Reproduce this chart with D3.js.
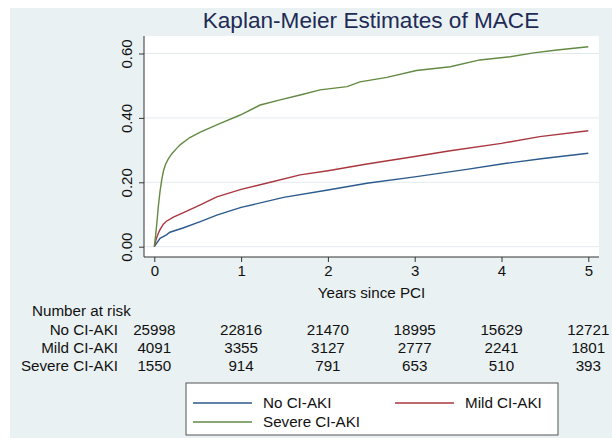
<!DOCTYPE html>
<html><head><meta charset="utf-8">
<script src="https://cdn.jsdelivr.net/npm/d3@7"></script>
<style>body{margin:0;background:#fff;}svg{display:block;font-family:"Liberation Sans",Arial,sans-serif;}</style>
</head><body><svg id="c" width="612" height="440"></svg>
<script>
const title = "Kaplan-Meier Estimates of MACE";
const xLabel = "Years since PCI";
const xTicks = [0,1,2,3,4,5];
const yTicks = [0,0.2,0.4,0.6];
const seriesNames = ["No CI-AKI","Mild CI-AKI","Severe CI-AKI"];
const seriesColors = ["#2c5a8c","#a8373f","#628a43"];
const noAKI = [[0,0],[0.03,0.012],[0.066,0.026],[0.14,0.037],[0.18,0.045],[0.33,0.058],[0.53,0.078],[0.72,0.098],[1.0,0.122],[1.49,0.153],[2.0,0.176],[2.45,0.197],[3.0,0.217],[3.6,0.24],[4.0,0.257],[4.48,0.274],[5.0,0.29]];
const mildAKI = [[0,0],[0.02,0.022],[0.046,0.042],[0.066,0.053],[0.104,0.07],[0.14,0.079],[0.22,0.092],[0.33,0.105],[0.53,0.13],[0.72,0.155],[1.0,0.178],[1.29,0.197],[1.68,0.223],[2.0,0.236],[2.45,0.257],[3.0,0.28],[3.41,0.298],[4.0,0.321],[4.44,0.342],[5.0,0.36]];
const severeAKI = [[0,0],[0.015,0.035],[0.03,0.075],[0.046,0.124],[0.066,0.172],[0.085,0.207],[0.105,0.235],[0.13,0.256],[0.16,0.272],[0.2,0.288],[0.25,0.303],[0.3,0.317],[0.41,0.339],[0.53,0.356],[0.76,0.383],[0.99,0.409],[1.22,0.44],[1.45,0.456],[1.68,0.471],[1.91,0.487],[2.22,0.497],[2.37,0.512],[2.68,0.526],[3.02,0.547],[3.41,0.559],[3.75,0.58],[4.1,0.59],[4.37,0.602],[4.64,0.611],[5.0,0.621]];
const riskTimes = [0,1,2,3,4,5];
const riskNo = [25998,22816,21470,18995,15629,12721];
const riskMild = [4091,3355,3127,2777,2241,1801];
const riskSevere = [1550,914,791,653,510,393];

const svg = d3.select("#c");
const bg = "#eaf1f3";
svg.append("rect").attr("x",10).attr("y",8).attr("width",602).attr("height",430).attr("fill",bg);

const x = d3.scaleLinear().domain([0,5]).range([154.3,588.3]);
const y = d3.scaleLinear().domain([0,0.6]).range([246.7,53.5]);
const pl=144, pr=599, pt=36, pb=257;
svg.append("rect").attr("x",pl).attr("y",pt).attr("width",pr-pl).attr("height",pb-pt).attr("fill","#fff");

// gridlines
svg.append("g").selectAll("line").data(yTicks).join("line")
  .attr("x1",pl).attr("x2",pr).attr("y1",d=>y(d)).attr("y2",d=>y(d))
  .attr("stroke","#e1ebee").attr("stroke-width",1);

// title
svg.append("text").attr("x",371).attr("y",28).attr("text-anchor","middle")
  .attr("font-size",22.6).attr("fill","#1e2b55").text(title);

// axes
const axisColor="#333";
const yAxis = svg.append("g").attr("transform",`translate(${pl},0)`)
  .call(d3.axisLeft(y).tickValues(yTicks).tickSize(5).tickFormat(d3.format(".2f")));
yAxis.select(".domain").attr("d",`M0,${pt}V${pb}`).attr("stroke",axisColor);
yAxis.selectAll(".tick line").attr("stroke",axisColor);
yAxis.selectAll(".tick text").attr("font-size",15).attr("fill","#111")
  .attr("transform","rotate(-90)").attr("x",0).attr("y",-12).attr("dy","0").attr("text-anchor","middle");

const xAxis = svg.append("g").attr("transform",`translate(0,${pb})`)
  .call(d3.axisBottom(x).tickValues(xTicks).tickSize(5).tickFormat(d3.format("d")));
xAxis.select(".domain").attr("d",`M${pl},0H${pr}`).attr("stroke",axisColor);
xAxis.selectAll(".tick line").attr("stroke",axisColor);
xAxis.selectAll(".tick text").attr("font-size",15).attr("fill","#111").attr("y",8).attr("dy","0.71em");

svg.append("text").attr("x",371.5).attr("y",298).attr("text-anchor","middle")
  .attr("font-size",15.2).attr("fill","#111").text(xLabel);

// curves
const line = d3.line().x(d=>x(d[0])).y(d=>y(d[1])).curve(d3.curveLinear);
[noAKI,mildAKI,severeAKI].forEach((s,i)=>{
  svg.append("path").attr("d",line(s)).attr("fill","none")
    .attr("stroke",seriesColors[i]).attr("stroke-width",1.4);
});

// risk table
const tfs=15.2;
svg.append("text").attr("x",32).attr("y",316).attr("font-size",tfs).attr("fill","#111").text("Number at risk");
const rows=[riskNo,riskMild,riskSevere];
const rowY=[335,353,371];
rows.forEach((r,i)=>{
  svg.append("text").attr("x",118).attr("y",rowY[i]).attr("text-anchor","end")
    .attr("font-size",tfs).attr("fill","#111").text(seriesNames[i]);
  svg.append("g").selectAll("text").data(r).join("text")
    .attr("x",(d,j)=>x(riskTimes[j])).attr("y",rowY[i]).attr("text-anchor","middle")
    .attr("font-size",tfs).attr("fill","#111").text(d=>d);
});

// legend
const lg = svg.append("g");
lg.append("rect").attr("x",186).attr("y",383).attr("width",372).attr("height",52)
  .attr("fill","#fff").attr("stroke","#555").attr("stroke-width",1);
const legPos=[[193,403],[395,403],[193,422]];
seriesNames.forEach((n,i)=>{
  const [lx,ly]=legPos[i];
  lg.append("line").attr("x1",lx).attr("x2",lx+59).attr("y1",ly).attr("y2",ly)
    .attr("stroke",seriesColors[i]).attr("stroke-width",1.4);
  lg.append("text").attr("x",lx+70).attr("y",ly+5).attr("font-size",tfs).attr("fill","#111").text(n);
});
</script></body></html>
